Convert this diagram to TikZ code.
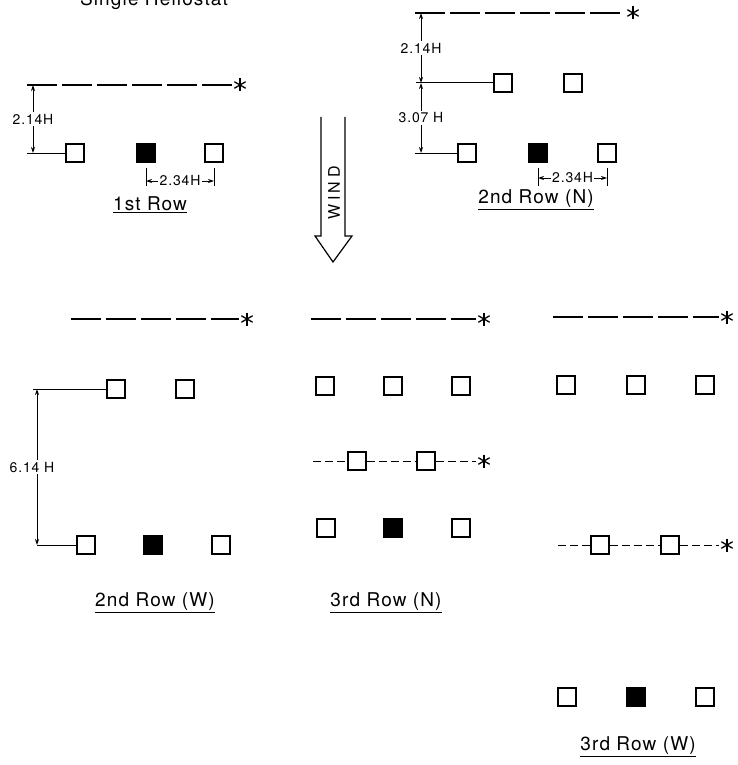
\documentclass[tikz,border=0pt]{standalone}
\usepackage{fontspec}
\setmainfont{TeX Gyre Heros}[LetterSpace=6]
\usetikzlibrary{arrows.meta}

\tikzset{
  helio/.style={draw, line width=1.3pt, minimum size=18pt, inner sep=0pt},
  heliofill/.style={helio, fill=black},
  fence/.style={line width=1.5pt, dash pattern=on 30pt off 5pt},
  shade/.style={line width=1pt, dash pattern=on 8pt off 4pt},
  star/.style={minimum size=13pt, inner sep=0pt, outer sep=2pt,
    path picture={
      \foreach \a in {90,30,150}
        \draw[line width=1.3pt] ([shift={(\a:6.5pt)}]path picture bounding box.center)
          -- ([shift={(\a+180:6.5pt)}]path picture bounding box.center);
    }},
  dimlabel/.style={fill=white, inner sep=1.5pt, font=\fontsize{14}{14}\selectfont},
  rowlabel/.style={font=\fontsize{19}{19}\selectfont},
}

\begin{document}
\begin{tikzpicture}[x=1pt, y=-1pt, >={Stealth[length=6pt,width=4pt]}, line width=1pt]
\useasboundingbox (0,0) rectangle (738,765);
\node[rowlabel, anchor=base] (ttl) at (154,6) {Single Heliostat};

% 1st row
\begin{scope}
\node[helio] (r1a) at (75,153) {};
\node[heliofill] (r1b) at (146,153) {};
\node[helio] (r1c) at (214,153) {};
\node[star] (r1s) at (240,85) {};
\coordinate (r1f) at (27,85);
\coordinate (r1g) at (27,153);
\coordinate (r1u) at (33,85);
\coordinate (r1v) at (33,153);
\coordinate (r1d) at (0,181);
\draw[fence] (r1f) -- (r1s);
\draw (r1g) -- (r1a);
\draw[<->] (r1u) -- node[dimlabel]{2.14H} (r1v);
\draw (r1b.south) ++(0,5) -- ++(0,18);
\draw (r1c.south) ++(0,5) -- ++(0,18);
\draw[<->] (r1b |- r1d) -- node[dimlabel]{2.34H} (r1c |- r1d);
\node[rowlabel] (r1t) at (150,205) {\underline{1st Row}};
\end{scope}

% 2nd row (N)
\begin{scope}
\node[helio] (r2a) at (503,83) {};
\node[helio] (r2b) at (573,83) {};
\node[helio] (r2c) at (467,153) {};
\node[heliofill] (r2d) at (538,153) {};
\node[helio] (r2e) at (607,153) {};
\node[star] (r2s) at (633,13) {};
\coordinate (r2f) at (415,13);
\coordinate (r2g) at (416,83);
\coordinate (r2h) at (415,153);
\coordinate (r2u) at (421,13);
\coordinate (r2v) at (421,83);
\coordinate (r2w) at (421,153);
\coordinate (r2k) at (0,178);
\draw[fence] (r2f) -- (r2s);
\draw (r2g) -- (r2a);
\draw (r2h) -- (r2c);
\draw[<->] (r2u) -- node[dimlabel]{2.14H} (r2v);
\draw[<->] (r2v) -- node[dimlabel]{3.07 H} (r2w);
\draw (r2d.south) ++(0,5) -- ++(0,18);
\draw (r2e.south) ++(0,5) -- ++(0,18);
\draw[<->] (r2d |- r2k) -- node[dimlabel]{2.34H} (r2e |- r2k);
\node[rowlabel] (r2t) at (536,200) {\underline{2nd Row (N)}};
\end{scope}

% wind
\draw[line width=1.2pt] (321,117) -- (321,236) -- (315,236) -- (333,262) -- (352,236) -- (345,236) -- (345,117);
\node[rotate=90, font=\fontsize{16}{16}\selectfont\addfontfeature{LetterSpace=22}] (wind) at (334,193) {WIND};

% 2nd row (W)
\begin{scope}
\node[helio] (w2a) at (116,389) {};
\node[helio] (w2b) at (185,389) {};
\node[helio] (w2c) at (86,545) {};
\node[heliofill] (w2d) at (153,545) {};
\node[helio] (w2e) at (221,545) {};
\node[star] (w2s) at (247,319) {};
\coordinate (w2f) at (71,319);
\coordinate (w2g) at (33,389);
\coordinate (w2h) at (37,545);
\coordinate (w2u) at (37,389);
\draw[fence] (w2f) -- (w2s);
\draw (w2g) -- (w2a);
\draw (w2h) -- (w2c);
\draw[<->] (w2u) -- node[dimlabel, xshift=-5pt]{6.14 H} (w2h);
\node[rowlabel] (w2t) at (155,603) {\underline{2nd Row (W)}};
\end{scope}

% 3rd row (N)
\begin{scope}
\node[helio] (n3a) at (325,386) {};
\node[helio] (n3b) at (393,386) {};
\node[helio] (n3c) at (461,386) {};
\node[helio] (n3d) at (357,461) {};
\node[helio] (n3e) at (426,461) {};
\node[helio] (n3f) at (326,528) {};
\node[heliofill] (n3g) at (393,528) {};
\node[helio] (n3h) at (461,528) {};
\node[star] (n3s) at (484,319) {};
\node[star] (n3r) at (484,461) {};
\coordinate (n3k) at (311,319);
\coordinate (n3m) at (313,461);
\draw[fence] (n3k) -- (n3s);
\draw[shade] (n3m) -- (n3d);
\draw[shade] (n3d) -- (n3e);
\draw[shade] (n3e) -- (n3r);
\node[rowlabel] (n3t) at (386,603) {\underline{3rd Row (N)}};
\end{scope}

% 3rd row (W)
\begin{scope}
\node[helio] (w3a) at (566,385) {};
\node[helio] (w3b) at (636,385) {};
\node[helio] (w3c) at (705,385) {};
\node[helio] (w3d) at (600,545) {};
\node[helio] (w3e) at (670,545) {};
\node[helio] (w3f) at (567,697) {};
\node[heliofill] (w3g) at (636,697) {};
\node[helio] (w3h) at (705,697) {};
\node[star] (w3s) at (727,317) {};
\node[star] (w3r) at (727,545) {};
\coordinate (w3k) at (553,317);
\coordinate (w3m) at (558,545);
\draw[fence] (w3k) -- (w3s);
\draw[shade] (w3m) -- (w3d);
\draw[shade] (w3d) -- (w3e);
\draw[shade] (w3e) -- (w3r);
\node[rowlabel] (w3t) at (638,747) {\underline{3rd Row (W)}};
\end{scope}

\end{tikzpicture}
\end{document}
